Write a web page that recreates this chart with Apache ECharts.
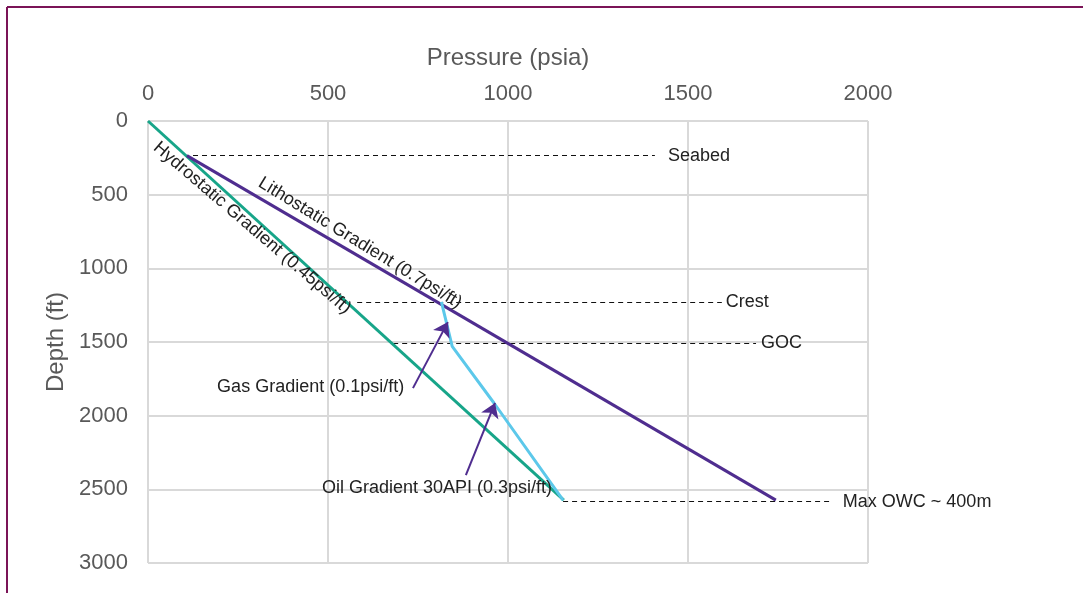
<!DOCTYPE html>
<html>
<head>
<meta charset="utf-8">
<script src="https://cdn.jsdelivr.net/npm/echarts@6/dist/echarts.min.js"></script>
<style>
html,body{margin:0;padding:0;background:#fff;}
#main{width:1083px;height:593px;}
</style>
</head>
<body>
<div id="main"></div>
<script>
// ---- data ----
const xTicks = [0, 500, 1000, 1500, 2000];
const yTicks = [0, 500, 1000, 1500, 2000, 2500, 3000];
const hydroPressure = [0, 1155];
const hydroDepth = [0, 2573];
const lithoPressure = [108, 1744];
const lithoDepth = [235, 2573];
const resPressure = [815, 845, 961, 1153];
const resDepth = [1227, 1530, 1914, 2573];
const levelNames = ['Seabed', 'Crest', 'GOC', 'Max OWC ~ 400m'];
const levelDepth = [235, 1227, 1507, 2583];
const levelStart = [125, 581, 681, 1153];
const levelEnd = [1408, 1594, 1689, 1894];
const slantNames = ['Hydrostatic Gradient (0.45psi/ft)', 'Lithostatic Gradient (0.7psi/ft)'];
const slantAnchorP = [289, 589];
const slantAnchorD = [726, 828];
const arrowNames = ['Gas Gradient (0.1psi/ft)', 'Oil Gradient 30API (0.3psi/ft)'];
const arrowFromP = [736, 883];
const arrowFromD = [1813, 2403];
const arrowToP = [833, 964];
const arrowToD = [1365, 1914];
const arrowTextP = [192, 483];
const arrowTextD = [1806, 2491];

// ---- styles ----
const FONT = '"Liberation Sans", Arial, sans-serif';
const GREEN = '#17A589';
const PURPLE = '#4F2D8F';
const BLUE = '#5CC8EA';
const levelGap = [13, 4, 5, 13];
const zip = (a, b) => a.map((v, i) => [v, b[i]]);

const series = [
  {type: 'line', name: 'Hydrostatic', data: zip(hydroPressure, hydroDepth), showSymbol: false, symbol: 'none',
   lineStyle: {color: GREEN, width: 3}, z: 5, silent: true},
  {type: 'line', name: 'Lithostatic', data: zip(lithoPressure, lithoDepth), showSymbol: false, symbol: 'none',
   lineStyle: {color: PURPLE, width: 3}, z: 5, silent: true},
  {type: 'line', name: 'Reservoir', data: zip(resPressure, resDepth), showSymbol: false, symbol: 'none',
   lineStyle: {color: BLUE, width: 3}, z: 6, silent: true},
  {type: 'lines', coordinateSystem: 'cartesian2d', silent: true, z: 3,
   data: levelNames.map((n, i) => ({coords: [[levelStart[i], levelDepth[i]], [levelEnd[i], levelDepth[i]]]})),
   lineStyle: {color: '#111', width: 1, type: [5, 4], opacity: 1}},
  {type: 'lines', coordinateSystem: 'cartesian2d', silent: true, z: 7,
   symbol: ['none', 'arrow'], symbolSize: 14,
   data: arrowNames.map((n, i) => ({coords: [[arrowFromP[i], arrowFromD[i]], [arrowToP[i], arrowToD[i]]]})),
   lineStyle: {color: PURPLE, width: 2, opacity: 1}}
];

const option = {
  animation: false,
  backgroundColor: '#fff',
  textStyle: {fontFamily: FONT},
  grid: {left: 148, right: 215, top: 121, bottom: 30, containLabel: false},
  xAxis: {
    type: 'value', position: 'top', min: xTicks[0], max: xTicks[xTicks.length - 1], interval: 500,
    name: 'Pressure (psia)', nameLocation: 'middle', nameGap: 51,
    nameTextStyle: {color: '#595959', fontSize: 24, fontFamily: FONT},
    axisLine: {show: false}, axisTick: {show: false},
    axisLabel: {color: '#595959', fontSize: 22, fontFamily: FONT, margin: 16, formatter: v => String(v)},
    splitLine: {show: true, lineStyle: {color: '#D9D9D9', width: 2}}
  },
  yAxis: {
    type: 'value', inverse: true, min: yTicks[0], max: yTicks[yTicks.length - 1], interval: 500,
    name: 'Depth (ft)', nameLocation: 'middle', nameGap: 75,
    nameTextStyle: {color: '#595959', fontSize: 24, fontFamily: FONT},
    axisLine: {show: false}, axisTick: {show: false},
    axisLabel: {color: '#595959', fontSize: 22, fontFamily: FONT, margin: 20, formatter: v => String(v)},
    splitLine: {show: true, lineStyle: {color: '#D9D9D9', width: 2}}
  },
  series: series
};

const chart = echarts.init(document.getElementById('main'), null, {renderer: 'canvas'});
chart.setOption(option);

const px = (p, d) => chart.convertToPixel({gridIndex: 0}, [p, d]);
const graphic = [];
// frame
graphic.push({type: 'line', shape: {x1: 7, y1: 7, x2: 1083, y2: 7}, style: {stroke: '#7B1457', lineWidth: 2}, silent: true});
graphic.push({type: 'line', shape: {x1: 7, y1: 7, x2: 7, y2: 593}, style: {stroke: '#7B1457', lineWidth: 2}, silent: true});
const TXT = '#222';
// level labels
levelNames.forEach((n, i) => {
  const e = px(levelEnd[i], levelDepth[i]);
  graphic.push({type: 'text', x: e[0] + levelGap[i], y: e[1], silent: true, z: 10,
    style: {text: n, fill: TXT, font: '18px ' + FONT, verticalAlign: 'middle', align: 'left'}});
});
// slanted labels along gradient lines
const slantLines = [[hydroPressure, hydroDepth], [lithoPressure, lithoDepth]];
slantNames.forEach((n, i) => {
  const L = slantLines[i];
  const a = px(L[0][0], L[1][0]);
  const b = px(L[0][1], L[1][1]);
  const ang = Math.atan2(b[1] - a[1], b[0] - a[0]) - (i === 0 ? 0.03 : -0.02);
  const c = px(slantAnchorP[i], slantAnchorD[i]);
  graphic.push({type: 'text', x: c[0], y: c[1], rotation: -ang, silent: true, z: 10,
    style: {text: n, fill: TXT, font: '18px ' + FONT, verticalAlign: 'middle', align: 'center'}});
});
// arrow labels
arrowNames.forEach((n, i) => {
  const c = px(arrowTextP[i], arrowTextD[i]);
  graphic.push({type: 'text', x: c[0], y: c[1], silent: true, z: 10,
    style: {text: n, fill: TXT, font: '18px ' + FONT, verticalAlign: 'middle', align: 'left'}});
});
chart.setOption({graphic: graphic});
</script>
</body>
</html>
